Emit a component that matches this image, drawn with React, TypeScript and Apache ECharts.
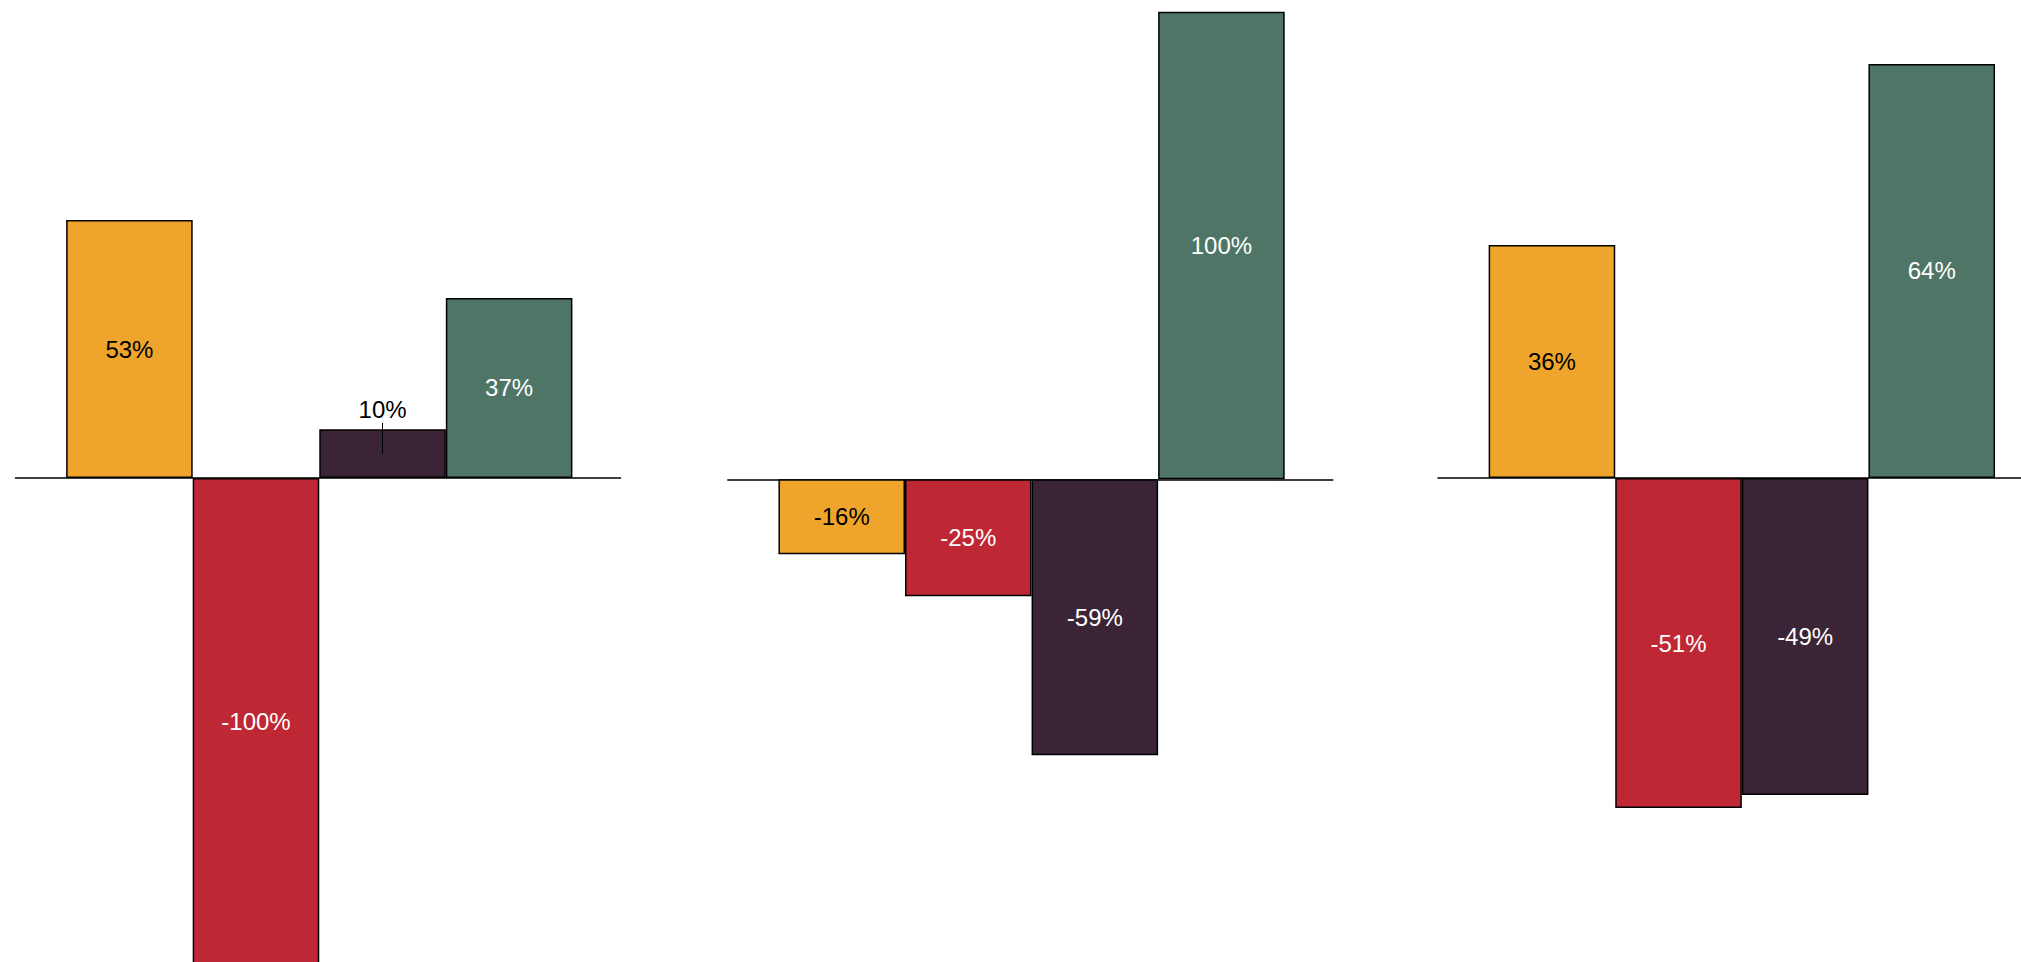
import React, { useEffect, useRef } from 'react';
import * as echarts from 'echarts';

// ---- data ----
const categories = ['Category 1', 'Category 2', 'Category 3', 'Category 4'];
const panel1 = [53, -100, 10, 37];
const panel2 = [-16, -25, -59, 100];
const panel3 = [36, -51, -49, 64];
const barColors = ['#EFA52B', '#BF2734', '#3A2436', '#4E7565'];
const labelColors = ['#000000', '#ffffff', '#ffffff', '#ffffff'];
// label moved above its bar with a leader line: [panelIndex, dataIndex]
const movedLabels = [[0, 2]];

const panelValues = [panel1, panel2, panel3];
const panelLayout = [
  { left: 15.5, width: 605, xMax: 3.88, yMin: -99.45, yMax: 98.21 },
  { left: 727.8, width: 605, xMax: 3.88, yMin: -103.2, yMax: 102.5 },
  { left: 1438, width: 583, xMax: 3.705, yMin: -74.8, yMax: 73.88 },
];

const W = 2021;
const H = 962;
const X_MIN = -0.9;

export default function App() {
  const ref = useRef<HTMLDivElement>(null);

  useEffect(() => {
    if (!ref.current) return;
    const chart = echarts.init(ref.current, undefined, { renderer: 'svg' });

    const grids: any[] = [];
    const xAxes: any[] = [];
    const yAxes: any[] = [];
    const series: any[] = [];

    panelValues.forEach((values, p) => {
      const lay = panelLayout[p];
      grids.push({ left: lay.left, top: 0, width: lay.width, height: H, containLabel: false });
      xAxes.push({
        type: 'value',
        gridIndex: p,
        min: X_MIN,
        max: lay.xMax,
        axisLine: { show: true, onZero: true, lineStyle: { color: '#000', width: 1.5 } },
        axisTick: { show: false },
        axisLabel: { show: false },
        splitLine: { show: false },
      });
      yAxes.push({
        type: 'value',
        gridIndex: p,
        min: lay.yMin,
        max: lay.yMax,
        show: false,
        splitLine: { show: false },
      });

      const moved = movedLabels.filter((m) => m[0] === p).map((m) => m[1]);

      const data = values.map((v, i) => {
        const isMoved = moved.includes(i);
        return {
          name: categories[i],
          value: [i, v],
          itemStyle: { color: barColors[i], borderColor: '#000', borderWidth: 1.5 },
          label: isMoved
            ? { color: '#000', offset: [0, -44.5] }
            : { color: labelColors[i] },
        };
      });

      const markLineData = moved.map((i) => [
        { coord: [i, values[i] / 2] },
        { coord: [i, values[i] / 2 + 6.3] },
      ]);

      series.push({
        type: 'bar',
        name: 'Panel ' + (p + 1),
        xAxisIndex: p,
        yAxisIndex: p,
        barWidth: '100%',
        clip: false,
        data,
        label: {
          show: true,
          position: 'inside',
          fontFamily: 'Liberation Sans, Arial, sans-serif',
          fontSize: 24,
          formatter: (params: any) => params.value[1] + '%',
        },
        markLine: markLineData.length
          ? {
              silent: true,
              symbol: ['none', 'none'],
              label: { show: false },
              lineStyle: { color: '#000', width: 1, type: 'solid' },
              data: markLineData,
            }
          : undefined,
      });
    });

    chart.setOption({
      animation: false,
      backgroundColor: '#ffffff',
      grid: grids,
      xAxis: xAxes,
      yAxis: yAxes,
      series,
    });

    return () => {
      chart.dispose();
    };
  }, []);

  return (
    <div
      ref={ref}
      style={{ position: 'fixed', left: 0, top: 0, width: W, height: H }}
    />
  );
}
